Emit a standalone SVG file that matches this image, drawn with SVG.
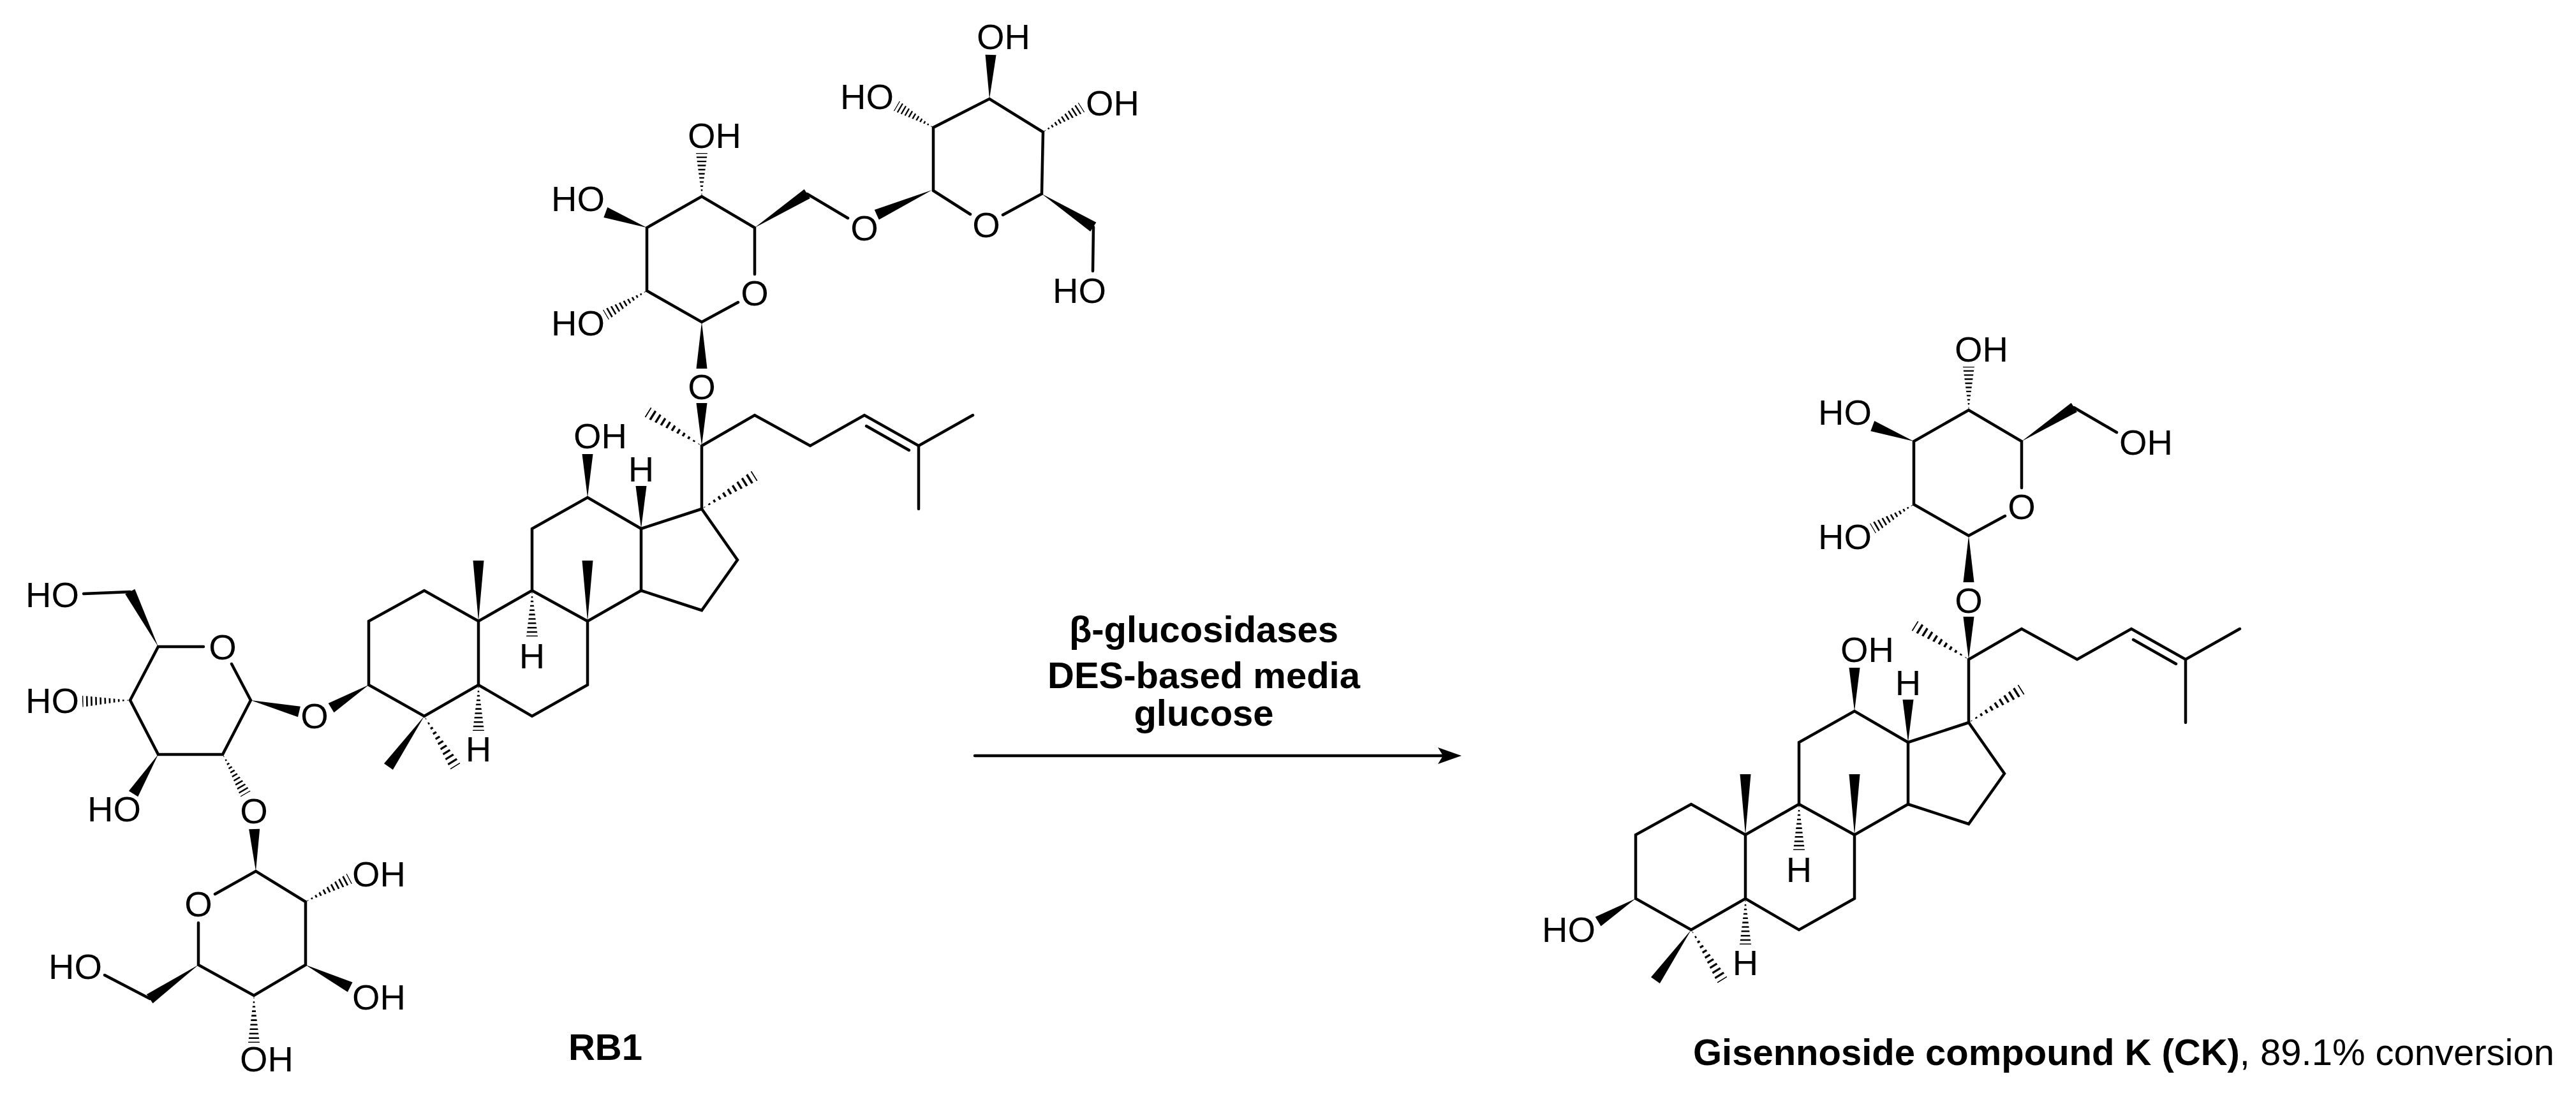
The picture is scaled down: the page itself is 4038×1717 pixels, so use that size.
<svg xmlns="http://www.w3.org/2000/svg" xmlns:xlink="http://www.w3.org/1999/xlink" width="4038" height="1717" viewBox="0 0 4038 1717">
<style>
line,polyline{stroke:#000;stroke-width:4.5;stroke-linecap:round;fill:none}
text{font-family:"Liberation Sans",Arial,sans-serif;font-size:56px;fill:#000}
.e{text-anchor:end}.m{text-anchor:middle}
.b{font-weight:bold;font-size:54px}
</style>
<defs>
<polygon id="w" points="0,0 100,-8.5 100,8.5" fill="#000"/>
<clipPath id="hc"><polygon points="0,0 100,-9 100,9"/></clipPath>
<g id="h" clip-path="url(#hc)"><line x1="3" y1="0" x2="100" y2="0" style="stroke-width:20;stroke-dasharray:3.5 6;stroke-linecap:butt"/></g>
<g id="ck">
<polyline points="1183,430 1183,357 1100,308 1014,357 1014,456 1100,505 1157,474"/>
<use href="#h" transform="translate(1100,308) rotate(-90) scale(.68,1)"/>
<use href="#w" transform="translate(1014,357) rotate(-159.7) scale(.69,1)"/>
<use href="#h" transform="translate(1014,456) rotate(149.7) scale(.75,1)"/>
<use href="#w" transform="translate(1183,357) rotate(-32.9) scale(.98,1)"/>
<use href="#w" transform="translate(1100,505) rotate(90) scale(.73,1)"/>
<text x="1078" y="232">OH</text>
<text class="e" x="948" y="331">HO</text>
<text class="e" x="948" y="526">HO</text>
<text class="m" x="1183" y="479">O</text>
<text class="m" x="1100" y="626">O</text>
<use href="#w" transform="translate(1100,699) rotate(-90) scale(.67,1)"/>
<use href="#h" transform="translate(1100,699) rotate(-148.1) scale(1,1)"/>
<polyline points="1100,798 1100,699 1183,651 1270,699 1355,651 1440,699 1525,651"/>
<line x1="1440" y1="699" x2="1440" y2="798"/>
<line x1="1358" y1="668" x2="1425" y2="706"/>
<polyline points="1100,798 1005,829 921,780 834,829 834,926 750,974 665,926 578,974 578,1074 665,1123 750,1074 834,1123 921,1074 921,974 1005,926 1100,957 1156,878 1100,798"/>
<line x1="1005" y1="829" x2="1005" y2="926"/>
<line x1="834" y1="926" x2="921" y2="974"/>
<line x1="750" y1="974" x2="750" y2="1074"/>
<use href="#h" transform="translate(1100,798) rotate(-32.1) scale(.98,1)"/>
<use href="#w" transform="translate(1005,829) rotate(-90) scale(.67,1)"/>
<use href="#w" transform="translate(921,780) rotate(-90) scale(.68,1)"/>
<use href="#w" transform="translate(750,974) rotate(-90) scale(.95,1)"/>
<use href="#w" transform="translate(921,974) rotate(-90) scale(.95,1)"/>
<use href="#h" transform="translate(834,926) rotate(90) scale(.72,1)"/>
<use href="#h" transform="translate(750,1074) rotate(90) scale(.72,1)"/>
<use href="#w" transform="translate(665,1123) rotate(125.3) scale(.97,1)"/>
<use href="#h" transform="translate(665,1123) rotate(58.2) scale(.93,1)"/>
<use href="#w" transform="translate(578,1074) rotate(148.6) scale(.69,1)"/>
<text x="899" y="703">OH</text>
<text class="m" x="1005" y="755">H</text>
<text class="m" x="834" y="1048">H</text>
<text class="m" x="750" y="1194">H</text>
</g>
</defs>

<g id="rb1">
<use href="#ck"/>
<line x1="1265" y1="304" x2="1329" y2="342"/>
<text class="m" x="1355" y="377">O</text>
<g id="rb1-outer-glucose">
<polyline points="1521,336 1463,299 1463,200 1551,155 1635,207 1633,304 1572,337"/>
<text class="m" x="1546" y="372">O</text>
<use href="#w" transform="translate(1461,298) rotate(155.9) scale(.95,1)"/>
<use href="#w" transform="translate(1551,155) rotate(-88.3) scale(.69,1)"/>
<use href="#h" transform="translate(1463,200) rotate(-149.6) scale(.67,1)"/>
<use href="#h" transform="translate(1635,207) rotate(-32.6) scale(.72,1)"/>
<use href="#w" transform="translate(1633,304) rotate(32.7) scale(.96,1)"/>
<line x1="1714" y1="356" x2="1713" y2="425"/>
<text x="1531" y="77">OH</text>
<text class="e" x="1401" y="171">HO</text>
<text x="1702" y="181">OH</text>
<text class="e" x="1734" y="475">HO</text>
</g>
<text class="m" x="493" y="1142">O</text>
<g id="rb1-c3-glucose">
<polyline points="363,1041 393,1098 349,1183 248,1183 204,1098 248,1014 319,1014"/>
<text class="m" x="349" y="1034">O</text>
<use href="#w" transform="translate(393,1098) rotate(13.3) scale(.78,1)"/>
<use href="#w" transform="translate(248,1014) rotate(-117.1) scale(.97,1)"/>
<line x1="204" y1="928" x2="131" y2="931"/>
<use href="#h" transform="translate(204,1098) rotate(178.7) scale(.75,1)"/>
<use href="#w" transform="translate(248,1183) rotate(122.2) scale(.73,1)"/>
<use href="#h" transform="translate(349,1183) rotate(59.9) scale(.72,1)"/>
<text class="e" x="124" y="952">HO</text>
<text class="e" x="124" y="1118">HO</text>
<text class="e" x="221" y="1288">HO</text>
<text class="m" x="398" y="1291">O</text>
</g>
<g id="rb1-terminal-glucose">
<polyline points="337,1402 401,1366 479,1414 479,1513 398,1561 311,1513 311,1447"/>
<text class="m" x="311" y="1437">O</text>
<use href="#w" transform="translate(401,1366) rotate(-92) scale(.66,1)"/>
<use href="#h" transform="translate(479,1414) rotate(-27.8) scale(.78,1)"/>
<use href="#w" transform="translate(479,1513) rotate(26.6) scale(.78,1)"/>
<use href="#h" transform="translate(398,1561) rotate(90) scale(.74,1)"/>
<use href="#w" transform="translate(311,1513) rotate(145.1) scale(.93,1)"/>
<line x1="235" y1="1566" x2="164" y2="1529"/>
<text x="552" y="1390">OH</text>
<text x="552" y="1583">OH</text>
<text x="376" y="1680">OH</text>
<text class="e" x="160" y="1535">HO</text>
</g>
<text class="m b" x="949" y="1662" style="font-size:58px">RB1</text>
</g>

<g id="ck-product">
<use href="#ck" transform="translate(1986,335)"/>
<line x1="3251" y1="639" x2="3318" y2="678"/>
<text x="3322" y="713">OH</text>
<text class="e" x="2501" y="1477">HO</text>
<text x="2654" y="1670" style="font-size:58px" textLength="1350" lengthAdjust="spacingAndGlyphs"><tspan font-weight="bold">Gisennoside compound K (CK)</tspan>, 89.1% conversion</text>
</g>

<g id="connectors">
<line x1="1528" y1="1185" x2="2268" y2="1185"/>
<polygon points="2291,1185 2254,1172 2262,1185 2254,1198" fill="#000"/>
<text class="m b" x="1887" y="1007" style="font-size:58px">β-glucosidases</text>
<text class="m b" x="1887" y="1079" style="font-size:58px">DES-based media</text>
<text class="m b" x="1887" y="1138" style="font-size:58px">glucose</text>
</g>
</svg>
